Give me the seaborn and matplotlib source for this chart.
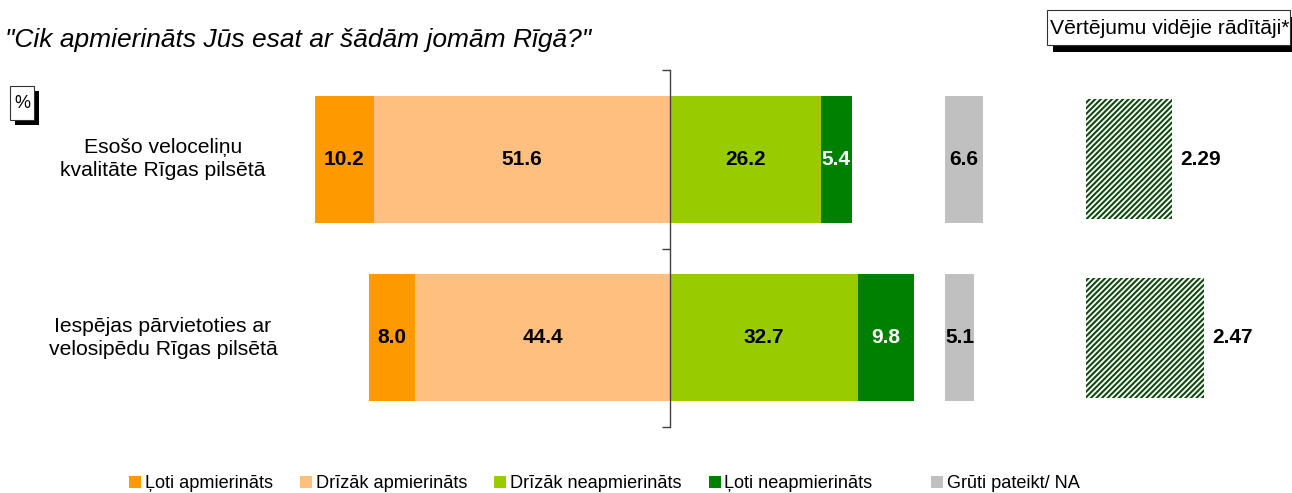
import numpy as np
import pandas as pd
import seaborn as sns
import matplotlib.pyplot as plt
from matplotlib.patches import Patch, Rectangle
from matplotlib.transforms import blended_transform_factory

# Survey answers, % of respondents
categories = ["Esošo veloceliņu\nkvalitāte Rīgas pilsētā",
              "Iespējas pārvietoties ar\nvelosipēdu Rīgas pilsētā"]
very_satisfied = [10.2, 8.0]
rather_satisfied = [51.6, 44.4]
rather_dissatisfied = [26.2, 32.7]
very_dissatisfied = [5.4, 9.8]
hard_to_say = [6.6, 5.1]
mean_scores = [2.29, 2.47]

legend_labels = ["Ļoti apmierināts", "Drīzāk apmierināts", "Drīzāk neapmierināts",
                 "Ļoti neapmierināts", "Grūti pateikt/ NA"]
title_text = "\"Cik apmierināts Jūs esat ar šādām jomām Rīgā?\""
means_title = "Vērtējumu vidējie rādītāji*"

C_VSAT, C_RSAT, C_RDIS, C_VDIS, C_NA = "#FF9900", "#FFBF7F", "#99CC00", "#008000", "#C0C0C0"
C_HATCH = "#0f4a0f"

sns.set_style("white")
plt.rcParams["font.family"] = ["Liberation Sans", "DejaVu Sans"]
plt.rcParams["text.color"] = "black"
plt.rcParams["hatch.linewidth"] = 1.5
plt.rcParams["hatch.color"] = C_HATCH

W, H = 1292, 493
fig = plt.figure(figsize=(W / 100, H / 100), dpi=100)


def frac(x0, y0, x1, y1):
    """pixel box (top-left origin) -> figure fraction rect"""
    return [x0 / W, 1 - y1 / H, (x1 - x0) / W, (y1 - y0) / H]


PX_PER_PCT = 5.745
AX_TOP, AX_BOT = 70, 427
ax = fig.add_axes(frac(300, AX_TOP, 940, AX_BOT))
ax_na = fig.add_axes(frac(945, AX_TOP, 1000, AX_BOT))
ax_mean = fig.add_axes(frac(1086, AX_TOP, 1292, AX_BOT))

df = pd.DataFrame({
    "cat": categories,
    "vsat": very_satisfied, "rsat": rather_satisfied,
    "rdis": rather_dissatisfied, "vdis": very_dissatisfied,
    "na": hard_to_say, "mean": mean_scores,
})
df["sat_total"] = -(df["vsat"] + df["rsat"])
df["rsat_neg"] = -df["rsat"]
df["dis_total"] = df["rdis"] + df["vdis"]

BAR_H = 0.71
common = dict(y="cat", orient="h", saturation=1, width=BAR_H, linewidth=0, legend=False)
# Diverging stacks: outer segment drawn first, inner segment on top
sns.barplot(data=df, x="sat_total", color=C_VSAT, ax=ax, **common)
sns.barplot(data=df, x="rsat_neg", color=C_RSAT, ax=ax, **common)
sns.barplot(data=df, x="dis_total", color=C_VDIS, ax=ax, **common)
sns.barplot(data=df, x="rdis", color=C_RDIS, ax=ax, **common)
sns.barplot(data=df, x="na", color=C_NA, ax=ax_na, **common)
sns.barplot(data=df, x="mean", y="cat", orient="h", color="white", width=0.67,
            edgecolor=C_HATCH, hatch="//////", linewidth=0, ax=ax_mean)

ax.set_xlim(-(670 - 300) / PX_PER_PCT, (940 - 670) / PX_PER_PCT)
ax_na.set_xlim(0, 55 / PX_PER_PCT)
ax_mean.set_xlim(1.806, 1.806 + 206 / 177.7)
for a in (ax, ax_na, ax_mean):
    a.set_ylim(1.5, -0.5)
    a.set_xlabel("")
    a.set_ylabel("")
    a.set_xticks([])
    for s in a.spines.values():
        s.set_visible(False)
for a in (ax_na, ax_mean):
    a.set_yticks([])

# Central axis line with category separators
ax.spines["left"].set_visible(True)
ax.spines["left"].set_position(("data", 0))
ax.spines["left"].set_color("#404040")
ax.spines["left"].set_linewidth(1.0)
ax.set_yticks([-0.5, 0.5, 1.5])
ax.set_yticklabels([])
ax.tick_params(axis="y", direction="out", length=6, width=1.0, color="#404040", left=True)
ax.set_zorder(3)
for p in ax.patches:
    p.set_zorder(1)

lab = dict(ha="center", va="center", fontsize=15, fontweight="bold")
for i, r in df.iterrows():
    ax.text(-(r["rsat"] + r["vsat"] / 2), i, f"{r['vsat']:.1f}", color="black", **lab)
    ax.text(-r["rsat"] / 2, i, f"{r['rsat']:.1f}", color="black", **lab)
    ax.text(r["rdis"] / 2, i, f"{r['rdis']:.1f}", color="black", **lab)
    ax.text(r["rdis"] + r["vdis"] / 2, i, f"{r['vdis']:.1f}", color="white", **lab)
    ax_na.text(r["na"] / 2, i, f"{r['na']:.1f}", color="black", **lab)
    ax_mean.text(r["mean"] + 0.045, i, f"{r['mean']:.2f}", color="black",
                 ha="left", va="center", fontsize=15, fontweight="bold")

# Category names to the left of the bars
tr = blended_transform_factory(fig.transFigure, ax.transData)
for i, name in enumerate(categories):
    ax.text(163 / W, i, name, transform=tr, ha="center", va="center",
            multialignment="center", fontsize=15.2, linespacing=1.3)

fig.text(5 / W, 1 - 40 / H, title_text, fontsize=19, style="italic", ha="left", va="center")


def shadow_box(x0, y0, x1, y1, dx, dy):
    fig.patches.append(Rectangle(((x0 + dx) / W, 1 - (y1 + dy) / H), (x1 - x0) / W, (y1 - y0) / H,
                                 transform=fig.transFigure, facecolor="black", edgecolor="none"))
    fig.patches.append(Rectangle((x0 / W, 1 - y1 / H), (x1 - x0) / W, (y1 - y0) / H,
                                 transform=fig.transFigure, facecolor="white",
                                 edgecolor="#333333", linewidth=0.8))


shadow_box(1047, 10, 1290, 45, 6, 7)
fig.text(1050 / W, 1 - 28 / H, means_title, fontsize=15.2, ha="left", va="center")
shadow_box(10, 86, 34, 120, 5, 5)
fig.text(22 / W, 1 - 103 / H, "%", fontsize=13, ha="center", va="center")

colors = [C_VSAT, C_RSAT, C_RDIS, C_VDIS, C_NA]
handles = [Patch(facecolor=c, edgecolor="none") for c in colors]
leg_kw = dict(frameon=False, fontsize=13.1, handlelength=0.66, handleheight=0.66,
              handletextpad=0.2, borderpad=0, borderaxespad=0, columnspacing=1.5)
fig.legend(handles[:4], legend_labels[:4], ncol=4, loc="center left",
           bbox_to_anchor=(129 / W, 1 - 484 / H), **leg_kw)
fig.legend(handles[4:], legend_labels[4:], ncol=1, loc="center left",
           bbox_to_anchor=(931 / W, 1 - 484 / H), **leg_kw)

fig.savefig("out.png", dpi=100)
